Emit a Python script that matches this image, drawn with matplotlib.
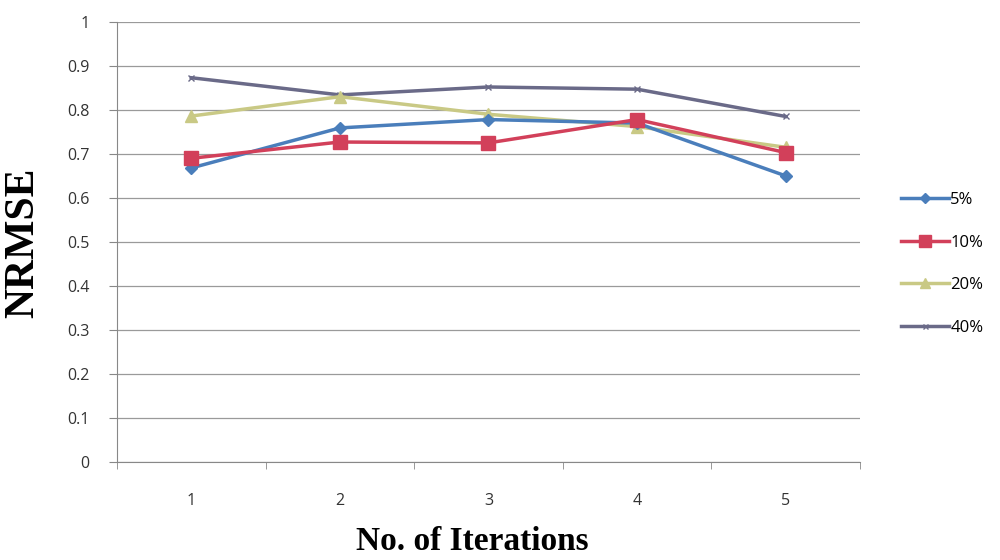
import matplotlib.pyplot as plt
from matplotlib.ticker import FixedLocator

iterations = [1, 2, 3, 4, 5]
nrmse_5 = [0.668, 0.759, 0.778, 0.770, 0.650]
nrmse_10 = [0.690, 0.727, 0.725, 0.778, 0.703]
nrmse_20 = [0.786, 0.830, 0.790, 0.762, 0.715]
nrmse_40 = [0.873, 0.834, 0.852, 0.847, 0.785]
labels = ['5%', '10%', '20%', '40%']
y_ticks = [0, 0.1, 0.2, 0.3, 0.4, 0.5, 0.6, 0.7, 0.8, 0.9, 1]
y_tick_labels = ['0', '0.1', '0.2', '0.3', '0.4', '0.5', '0.6', '0.7', '0.8', '0.9', '1']

fig = plt.figure(figsize=(10, 5.6), dpi=100)
ax = fig.add_axes([0.117, 0.175, 0.743, 0.786])

ax.plot(iterations, nrmse_5, color='#4a7ebb', lw=2.5, marker='D', ms=6, label=labels[0], zorder=3)
ax.plot(iterations, nrmse_10, color='#d2405a', lw=2.5, marker='s', ms=10, label=labels[1], zorder=4)
ax.plot(iterations, nrmse_20, color='#c9c985', lw=2.5, marker='^', ms=8, label=labels[2], zorder=2)
ax.plot(iterations, nrmse_40, color='#6a6a88', lw=2.5, marker='x', ms=4, label=labels[3], zorder=1)

ax.set_xlim(0.5, 5.5)
ax.set_ylim(0, 1)
ax.set_yticks(y_ticks)
ax.set_yticklabels(y_tick_labels, fontsize=11.5, family='Open Sans', color='#333333')
ax.set_xticks(iterations)
ax.set_xticklabels([str(i) for i in iterations], fontsize=11.5, family='Open Sans', color='#333333')
ax.xaxis.set_minor_locator(FixedLocator([0.5, 1.5, 2.5, 3.5, 4.5, 5.5]))
ax.tick_params(axis='x', which='major', length=0, pad=22)
ax.tick_params(axis='x', which='minor', length=5, color='#888888', direction='out')
ax.tick_params(axis='y', length=6, color='#888888', direction='out', pad=14)

ax.grid(axis='y', color='#9a9a9a', lw=0.9)
ax.set_axisbelow(True)
for side in ['top', 'right']:
    ax.spines[side].set_visible(False)
for side in ['left', 'bottom']:
    ax.spines[side].set_color('#888888')

ax.set_xlabel('No. of Iterations', fontsize=24, fontweight='bold', family='Liberation Serif')
ax.xaxis.set_label_coords(0.478, -0.145)
ax.set_ylabel('NRMSE', fontsize=30, fontweight='bold', family='Liberation Serif')
ax.yaxis.set_label_coords(-0.1, 0.498)

ax.legend(loc='center left', bbox_to_anchor=(1.035, 0.45), frameon=False,
          prop={'family': 'Open Sans', 'size': 12}, labelspacing=1.6,
          handlelength=2.9, handletextpad=0.05, markerscale=0.9)

fig.savefig('out.png')
